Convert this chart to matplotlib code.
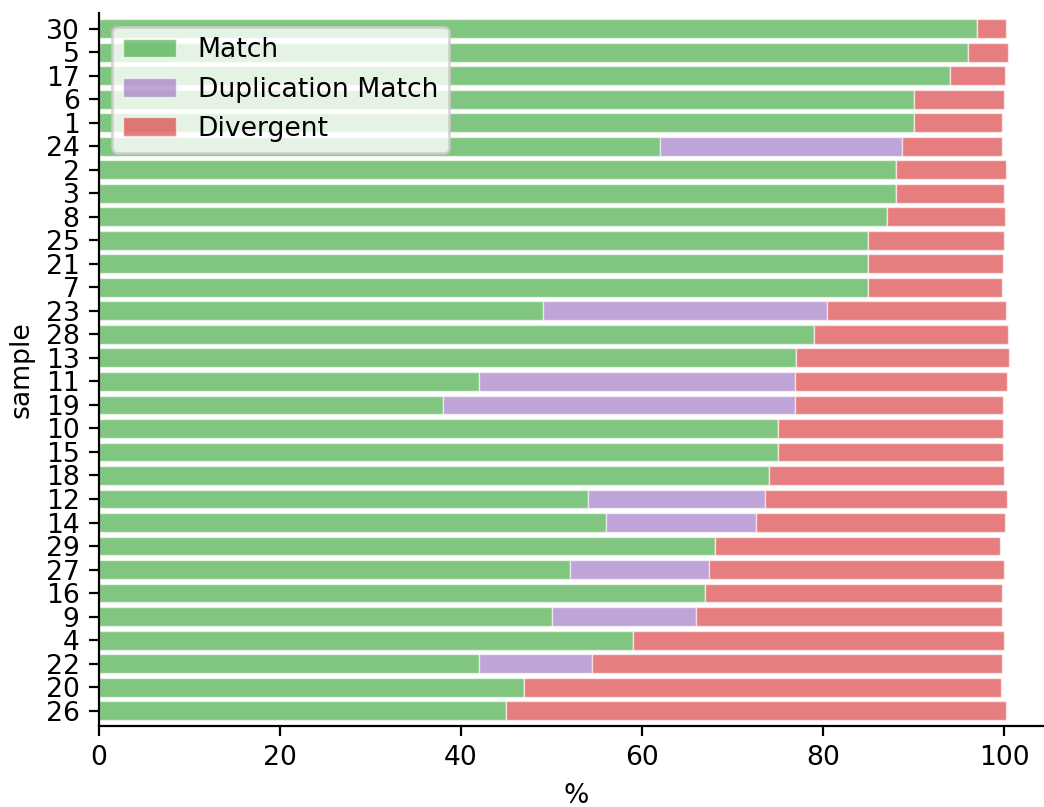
import numpy as np
import matplotlib
matplotlib.use("Agg")
import matplotlib.pyplot as plt

# samples listed top to bottom
samples = ["30", "5", "17", "6", "1", "24", "2", "3", "8", "25",
           "21", "7", "23", "28", "13", "11", "19", "10", "15", "18",
           "12", "14", "29", "27", "16", "9", "4", "22", "20", "26"]
match = [97, 96, 94, 90, 90, 62, 88, 88, 87, 85,
         85, 85, 49, 79, 77, 42, 38, 75, 75, 74,
         54, 56, 68, 52, 67, 50, 59, 42, 47, 45]
dup_match = [0, 0, 0, 0, 0, 26.7, 0, 0, 0, 0,
             0, 0, 31.4, 0, 0, 34.9, 38.9, 0, 0, 0,
             19.6, 16.6, 0, 15.4, 0, 15.9, 0, 12.5, 0, 0]
divergent = [3.2, 4.4, 6.1, 10.0, 9.7, 11.0, 12.2, 12.0, 13.1, 15.0,
             14.9, 14.8, 19.8, 21.4, 23.5, 23.4, 23.0, 24.9, 24.9, 26.0,
             26.7, 27.5, 31.5, 32.6, 32.7, 33.9, 41.0, 45.3, 52.6, 55.2]

plt.rcParams["font.family"] = "DejaVu Sans"
plt.rcParams["font.size"] = 9.6

fig = plt.figure(figsize=(5.22, 4.035), dpi=200)
ax = fig.add_axes([0.0948, 0.1004, 0.9148, 0.8831])

y = np.arange(len(samples))[::-1]
m = np.array(match)
d = np.array(dup_match)
v = np.array(divergent)

kw = dict(height=0.8, alpha=0.6, edgecolor="white", linewidth=0.5)
ax.barh(y, m, color="tab:green", label="Match", **kw)
ax.barh(y, d, left=m, color="tab:purple", label="Duplication Match", **kw)
ax.barh(y, v, left=m + d, color="tab:red", label="Divergent", **kw)

ax.set_yticks(y)
ax.set_yticklabels(samples)
ax.set_ylim(-0.65, len(samples) - 0.35)
ax.set_xlim(0, 105.5)
ax.set_xticks([0, 20, 40, 60, 80, 100])
ax.set_xlabel("%")
ax.set_ylabel("sample")

ax.spines["top"].set_visible(False)
ax.spines["right"].set_visible(False)

ax.legend(loc="upper left")

fig.savefig("out.png", dpi=200)
